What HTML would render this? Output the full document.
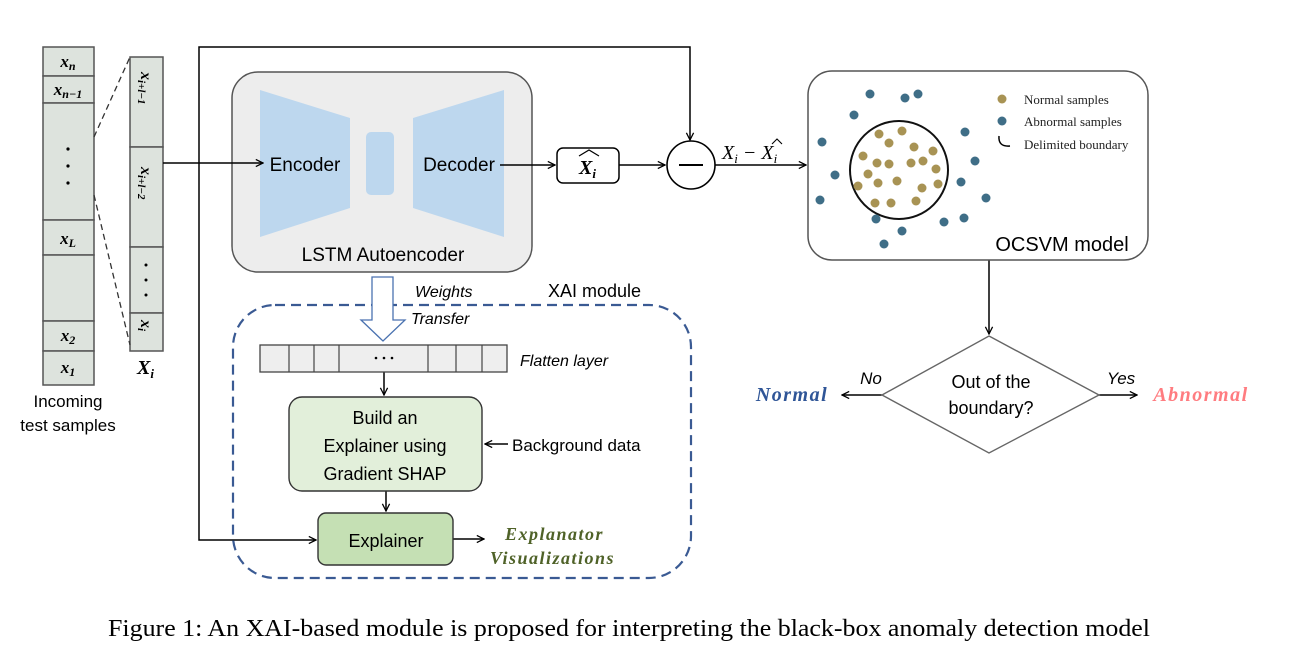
<!DOCTYPE html>
<html><head><meta charset="utf-8"><style>
html,body{margin:0;padding:0;background:#fff;}
svg{display:block}
.s{font-family:"Liberation Sans",sans-serif}
.m{font-family:"Liberation Serif",serif;font-style:italic;font-weight:bold}
</style></head><body>
<svg width="1290" height="666" viewBox="0 0 1290 666" xmlns="http://www.w3.org/2000/svg">
<defs>
<marker id="a" viewBox="0 0 10 10" refX="9" refY="5" markerWidth="9" markerHeight="9" markerUnits="userSpaceOnUse" orient="auto"><path d="M1,1 L9,5 L1,9" fill="none" stroke="#000" stroke-width="1.4"/></marker>
</defs>
<!-- left column -->
<g fill="#dde3dd" stroke="#555" stroke-width="1.5">
<rect x="43" y="47" width="51" height="29"/>
<rect x="43" y="76" width="51" height="27"/>
<rect x="43" y="103" width="51" height="117"/>
<rect x="43" y="220" width="51" height="35"/>
<rect x="43" y="255" width="51" height="66"/>
<rect x="43" y="321" width="51" height="30"/>
<rect x="43" y="351" width="51" height="34"/>
</g>
<g class="m" font-size="17" text-anchor="middle">
<text x="68" y="67">x<tspan font-size="12" dy="3">n</tspan></text>
<text x="68" y="95">x<tspan font-size="12" dy="3">n−1</tspan></text>
<text x="68" y="244">x<tspan font-size="12" dy="3">L</tspan></text>
<text x="68" y="341">x<tspan font-size="12" dy="3">2</tspan></text>
<text x="68" y="373">x<tspan font-size="12" dy="3">1</tspan></text>
</g>
<g fill="#000"><circle cx="68" cy="149" r="1.6"/><circle cx="68" cy="166" r="1.6"/><circle cx="68" cy="183" r="1.6"/></g>
<text class="s" x="68" y="407" font-size="17" text-anchor="middle">Incoming</text>
<text class="s" x="68" y="431" font-size="17" text-anchor="middle">test samples</text>
<!-- Xi column -->
<g fill="#dde3dd" stroke="#555" stroke-width="1.5">
<rect x="130" y="57" width="33" height="90"/>
<rect x="130" y="147" width="33" height="100"/>
<rect x="130" y="247" width="33" height="66"/>
<rect x="130" y="313" width="33" height="38"/>
</g>
<g class="m" font-size="16">
<text transform="translate(141,72) rotate(90)">x<tspan font-size="11" dy="3">i+l−1</tspan></text>
<text transform="translate(141,167) rotate(90)">x<tspan font-size="11" dy="3">i+l−2</tspan></text>
<text transform="translate(141,320) rotate(90)">x<tspan font-size="11" dy="3">i</tspan></text>
</g>
<g fill="#000"><circle cx="146" cy="265" r="1.5"/><circle cx="146" cy="280" r="1.5"/><circle cx="146" cy="295" r="1.5"/></g>
<text class="m" x="137" y="374" font-size="20">X<tspan font-size="13" dy="4">i</tspan></text>
<g stroke="#333" stroke-width="1.3" stroke-dasharray="6,4"><line x1="94" y1="137" x2="130" y2="57"/><line x1="94" y1="195" x2="130" y2="345"/></g>
<!-- autoencoder -->
<rect x="232" y="72" width="300" height="200" rx="26" fill="#ededed" stroke="#555" stroke-width="1.5"/>
<polygon points="260,90 350,118 350,208 260,237" fill="#bdd7ee"/>
<polygon points="413,118 504,90 504,237 413,208" fill="#bdd7ee"/>
<rect x="366" y="132" width="28" height="63" rx="5" fill="#bdd7ee"/>
<text class="s" x="305" y="171" font-size="19" text-anchor="middle">Encoder</text>
<text class="s" x="459" y="171" font-size="19" text-anchor="middle">Decoder</text>
<text class="s" x="383" y="261" font-size="19" text-anchor="middle">LSTM Autoencoder</text>
<!-- connectors -->
<g stroke="#000" stroke-width="1.5" fill="none">
<line x1="163" y1="163" x2="263" y2="163" marker-end="url(#a)"/>
<polyline points="199,163 199,47 690,47 690,140" marker-end="url(#a)"/>
<polyline points="199,163 199,540 316,540" marker-end="url(#a)"/>
<line x1="500" y1="165" x2="555" y2="165" marker-end="url(#a)"/>
<line x1="619" y1="165" x2="665" y2="165" marker-end="url(#a)"/>
<line x1="715" y1="165" x2="806" y2="165" marker-end="url(#a)"/>
<line x1="989" y1="260" x2="989" y2="334" marker-end="url(#a)"/>
<line x1="882" y1="395" x2="842" y2="395" marker-end="url(#a)"/>
<line x1="1099" y1="395" x2="1137" y2="395" marker-end="url(#a)"/>
<line x1="384" y1="372" x2="384" y2="395" marker-end="url(#a)"/>
<line x1="386" y1="491" x2="386" y2="511" marker-end="url(#a)"/>
<line x1="508" y1="444" x2="485" y2="444" marker-end="url(#a)"/>
<line x1="453" y1="539" x2="484" y2="539" marker-end="url(#a)"/>
</g>
<!-- xhat -->
<rect x="557" y="148" width="62" height="35" rx="6" fill="#fff" stroke="#000" stroke-width="1.5"/>
<text class="m" x="579" y="174" font-size="20">X<tspan font-size="13" dy="4">i</tspan></text>
<path d="M579,156 L589,150 L599,156" fill="none" stroke="#000" stroke-width="1.2"/>
<circle cx="691" cy="165" r="24" fill="#fff" stroke="#000" stroke-width="1.6"/>
<line x1="679" y1="165" x2="703" y2="165" stroke="#000" stroke-width="2"/>
<text x="722" y="159" font-family="Liberation Serif,serif" font-style="italic" font-size="20">X<tspan font-size="13" dy="4">i</tspan><tspan dy="-4"> − X</tspan><tspan font-size="13" dy="4">i</tspan></text>
<path d="M772,144 L777,139 L782,144" fill="none" stroke="#000" stroke-width="1.1"/>
<!-- OCSVM -->
<rect x="808" y="71" width="340" height="189" rx="24" fill="#fff" stroke="#555" stroke-width="1.5"/>
<circle cx="899" cy="170" r="49" fill="none" stroke="#111" stroke-width="2"/>
<g fill="#a89354">
<circle cx="879" cy="134" r="4.5"/><circle cx="902" cy="131" r="4.5"/><circle cx="889" cy="143" r="4.5"/><circle cx="914" cy="147" r="4.5"/><circle cx="933" cy="151" r="4.5"/><circle cx="863" cy="156" r="4.5"/><circle cx="877" cy="163" r="4.5"/><circle cx="889" cy="164" r="4.5"/><circle cx="911" cy="163" r="4.5"/><circle cx="923" cy="161" r="4.5"/><circle cx="936" cy="169" r="4.5"/><circle cx="868" cy="174" r="4.5"/><circle cx="878" cy="183" r="4.5"/><circle cx="897" cy="181" r="4.5"/><circle cx="858" cy="186" r="4.5"/><circle cx="922" cy="188" r="4.5"/><circle cx="938" cy="184" r="4.5"/><circle cx="875" cy="203" r="4.5"/><circle cx="891" cy="203" r="4.5"/><circle cx="916" cy="201" r="4.5"/>
<circle cx="1002" cy="99" r="4.5"/>
</g>
<g fill="#3f6e87">
<circle cx="870" cy="94" r="4.5"/><circle cx="905" cy="98" r="4.5"/><circle cx="918" cy="94" r="4.5"/><circle cx="854" cy="115" r="4.5"/><circle cx="822" cy="142" r="4.5"/><circle cx="965" cy="132" r="4.5"/><circle cx="975" cy="161" r="4.5"/><circle cx="835" cy="175" r="4.5"/><circle cx="961" cy="182" r="4.5"/><circle cx="820" cy="200" r="4.5"/><circle cx="986" cy="198" r="4.5"/><circle cx="876" cy="219" r="4.5"/><circle cx="944" cy="222" r="4.5"/><circle cx="964" cy="218" r="4.5"/><circle cx="902" cy="231" r="4.5"/><circle cx="884" cy="244" r="4.5"/>
<circle cx="1002" cy="121" r="4.5"/>
</g>
<path d="M999,136 Q998,147 1010,146" fill="none" stroke="#000" stroke-width="1.5"/>
<g font-family="Liberation Serif,serif" font-size="13" fill="#222">
<text x="1024" y="104">Normal samples</text>
<text x="1024" y="126">Abnormal samples</text>
<text x="1024" y="149">Delimited boundary</text>
</g>
<text class="s" x="1062" y="251" font-size="20" text-anchor="middle">OCSVM model</text>
<!-- decision -->
<polygon points="989,336 1099,395 989,453 882,395" fill="#fff" stroke="#666" stroke-width="1.4"/>
<text class="s" x="991" y="388" font-size="18" text-anchor="middle">Out of the</text>
<text class="s" x="991" y="414" font-size="18" text-anchor="middle">boundary?</text>
<text class="s" x="871" y="384" font-size="17" font-style="italic" text-anchor="middle">No</text>
<text class="s" x="1121" y="384" font-size="17" font-style="italic" text-anchor="middle">Yes</text>
<text class="m" x="792" y="401" font-size="20" fill="#2f5597" text-anchor="middle" letter-spacing="1.5">Normal</text>
<text class="m" x="1201" y="401" font-size="20" fill="#ff7c80" text-anchor="middle" letter-spacing="1.5">Abnormal</text>
<!-- XAI module -->
<rect x="233" y="305" width="458" height="273" rx="42" fill="none" stroke="#3a5a93" stroke-width="2.2" stroke-dasharray="10,6"/>
<path d="M372,277 L393,277 L393,320 L405,320 L383,341 L361,320 L372,320 Z" fill="#fff" stroke="#4a72b0" stroke-width="1.3"/>
<text class="s" x="415" y="297" font-size="16" font-style="italic">Weights</text>
<text class="s" x="411" y="324" font-size="16" font-style="italic">Transfer</text>
<text class="s" x="548" y="297" font-size="18">XAI module</text>
<rect x="260" y="345" width="247" height="27" fill="#eee" stroke="#444" stroke-width="1.3"/>
<g stroke="#444" stroke-width="1.2"><line x1="289" y1="345" x2="289" y2="372"/><line x1="314" y1="345" x2="314" y2="372"/><line x1="339" y1="345" x2="339" y2="372"/><line x1="428" y1="345" x2="428" y2="372"/><line x1="456" y1="345" x2="456" y2="372"/><line x1="482" y1="345" x2="482" y2="372"/></g>
<g fill="#000"><circle cx="376" cy="358" r="1.3"/><circle cx="384" cy="358" r="1.3"/><circle cx="392" cy="358" r="1.3"/></g>
<text class="s" x="520" y="366" font-size="16" font-style="italic">Flatten layer</text>
<rect x="289" y="397" width="193" height="94" rx="13" fill="#e2efda" stroke="#333" stroke-width="1.4"/>
<text class="s" x="385" y="424" font-size="18" text-anchor="middle">Build an</text>
<text class="s" x="385" y="452" font-size="18" text-anchor="middle">Explainer using</text>
<text class="s" x="385" y="480" font-size="18" text-anchor="middle">Gradient SHAP</text>
<text class="s" x="512" y="451" font-size="17">Background data</text>
<rect x="318" y="513" width="135" height="52" rx="8" fill="#c5e0b4" stroke="#333" stroke-width="1.4"/>
<text class="s" x="386" y="547" font-size="18" text-anchor="middle">Explainer</text>
<text class="m" x="505" y="540" font-size="18" fill="#4f6228" letter-spacing="1.5">Explanator</text>
<text class="m" x="490" y="564" font-size="18" fill="#4f6228" letter-spacing="1.5">Visualizations</text>
<!-- caption -->
<text x="108" y="636" font-family="Liberation Serif,serif" font-size="24" textLength="1042" lengthAdjust="spacingAndGlyphs">Figure 1: An XAI-based module is proposed for interpreting the black-box anomaly detection model</text>
</svg>
</body></html>
